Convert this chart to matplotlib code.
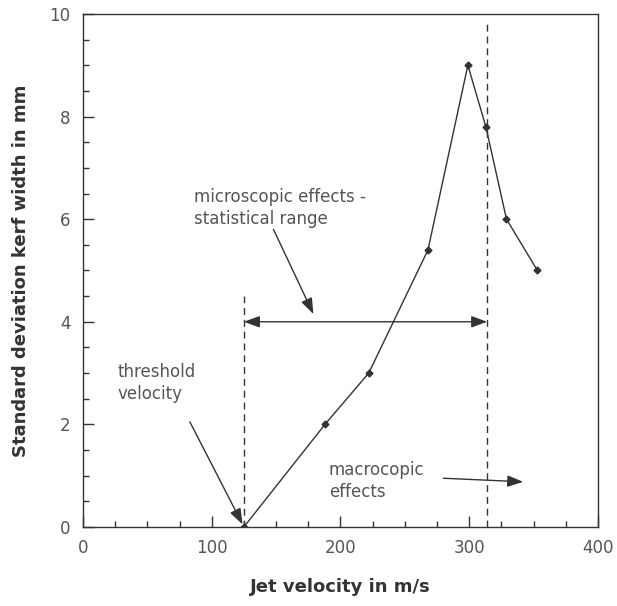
import matplotlib
matplotlib.use("Agg")
import matplotlib.pyplot as plt

# data
velocity = [125, 188, 222, 268, 299, 313, 329, 353]
kerf_sd = [0.0, 2.0, 3.0, 5.4, 9.0, 7.8, 6.0, 5.0]

threshold_v = 125
macro_v = 314
range_y = 4.0

plt.rcParams['font.family'] = ['DejaVu Sans']
ink = '#333333'
txt = '#555555'

fig = plt.figure(figsize=(6.17, 6.06), dpi=100)
ax = fig.add_axes([0.1345, 0.1304, 0.8345, 0.8466])

ax.plot(velocity, kerf_sd, '-', color=ink, lw=1.0, marker='D', ms=3.5, mfc=ink, mec=ink)

# dashed markers for the two regimes
ax.plot([threshold_v, threshold_v], [0, 4.5], '--', color=ink, lw=1.0, dashes=(5, 3.5))
ax.plot([macro_v, macro_v], [0, 9.85], '--', color=ink, lw=1.0, dashes=(5, 3.5))

head = '-|>,head_length=0.6,head_width=0.22'
arrow = dict(arrowstyle=head, color=ink, lw=1.0, mutation_scale=16, shrinkA=0, shrinkB=0)
ax.annotate('', xy=(threshold_v, range_y), xytext=(macro_v, range_y),
            arrowprops=dict(arrowstyle='<|-|>,head_length=0.6,head_width=0.22', color=ink,
                            lw=1.0, mutation_scale=16, shrinkA=0, shrinkB=0))

ax.text(86, 6.22, 'microscopic effects -\nstatistical range', color=txt, fontsize=12,
        va='center', ha='left', linespacing=1.3)
ax.annotate('', xy=(179, 4.15), xytext=(148, 5.8), arrowprops=arrow)

ax.text(27, 2.8, 'threshold\nvelocity', color=txt, fontsize=12, va='center', ha='left', linespacing=1.3)
ax.annotate('', xy=(124, 0.05), xytext=(83, 2.05), arrowprops=arrow)

ax.text(191, 0.9, 'macrocopic\neffects', color=txt, fontsize=12, va='center', ha='left', linespacing=1.3)
ax.annotate('', xy=(342, 0.88), xytext=(280, 0.95), arrowprops=arrow)

ax.set_xlim(0, 400)
ax.set_ylim(0, 10)
ax.set_xticks([0, 100, 200, 300, 400])
ax.set_yticks([0, 2, 4, 6, 8, 10])
ax.set_xticks(range(0, 401, 25), minor=True)
ax.set_yticks([i * 0.5 for i in range(21)], minor=True)
ax.tick_params(which='both', direction='in', color=ink, labelcolor=txt, labelsize=12)
ax.tick_params(which='major', length=8, width=1.0, pad=9)
ax.tick_params(which='minor', length=4, width=1.0)
for s in ax.spines.values():
    s.set_color(ink)
    s.set_linewidth(1.0)

ax.set_xlabel('Jet velocity in m/s', fontsize=13, fontweight='bold', color=ink, labelpad=15)
ax.set_ylabel('Standard deviation kerf width in mm', fontsize=13, fontweight='bold', color=ink, labelpad=14)

fig.savefig('out.png', dpi=100)
